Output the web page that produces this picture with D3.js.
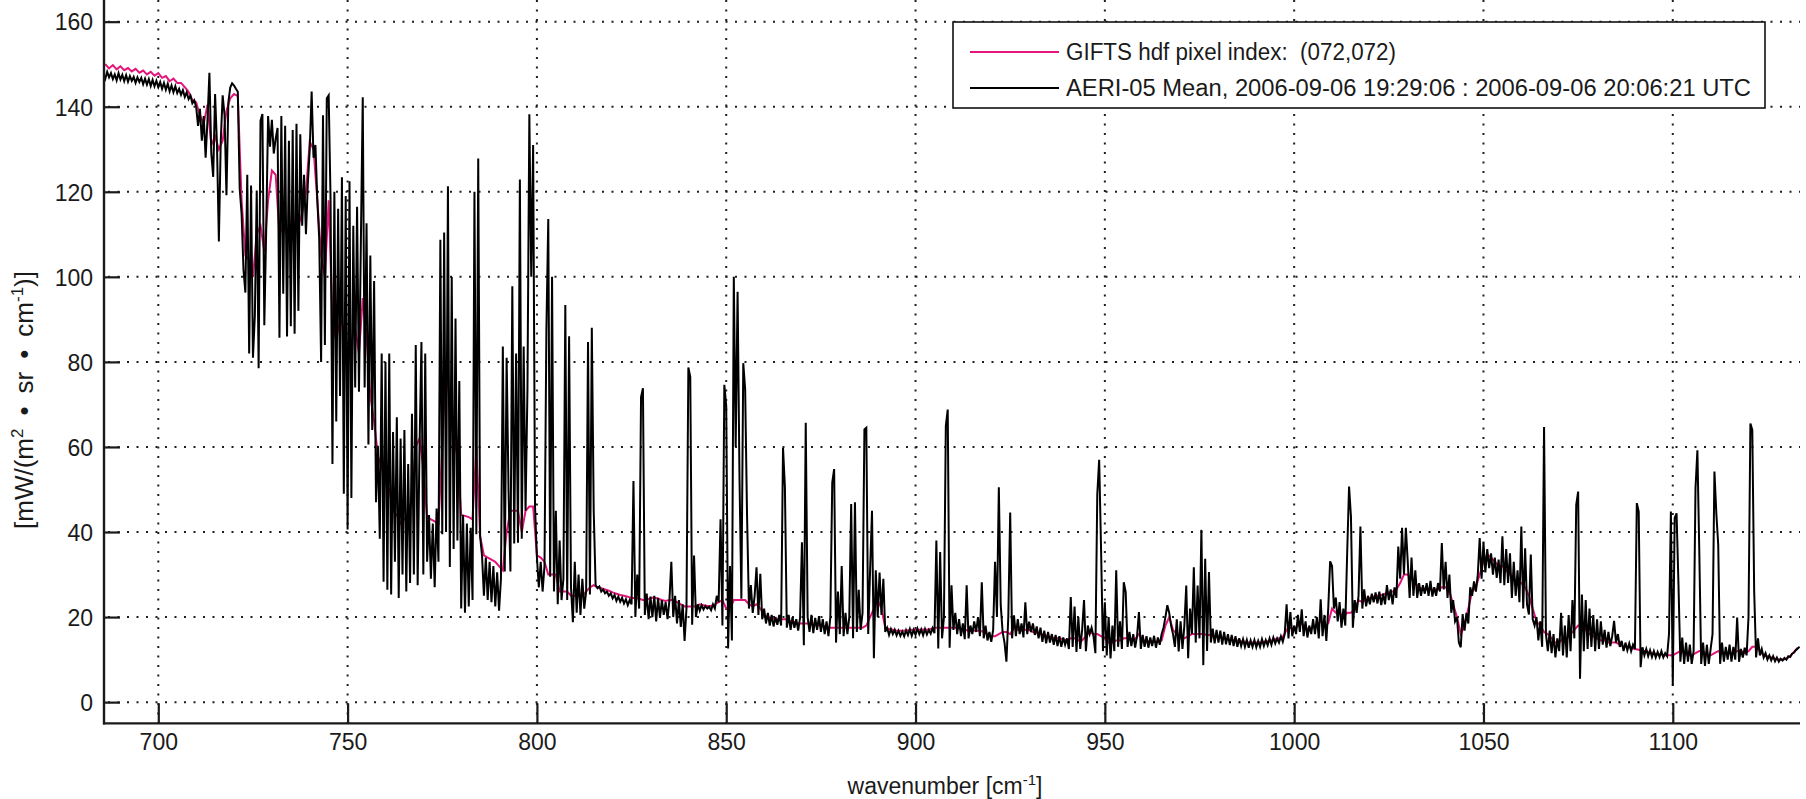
<!DOCTYPE html>
<html><head><meta charset="utf-8">
<script src="https://cdn.jsdelivr.net/npm/d3@7"></script>
<style>
html,body{margin:0;padding:0;background:#fff;}
svg{display:block;}
text{font-family:"Liberation Sans",Arial,Helvetica,sans-serif;fill:#1a1a1a;}
</style></head><body>
<svg id="chart" width="1806" height="799"></svg>
<script>
// ---------- data ----------
const xTicks = [700, 750, 800, 850, 900, 950, 1000, 1050, 1100];
const yTicks = [0, 20, 40, 60, 80, 100, 120, 140, 160];
const xDomain = [685.66, 1133.6];
const yDomain = [-5, 165];

const seriesNames = ["GIFTS hdf pixel index:  (072,072)",
                     "AERI-05 Mean, 2006-09-06 19:29:06 : 2006-09-06 20:06:21 UTC"];

// AERI-05 mean radiance, wavenumber grid 685.5 .. 1133.5 step 0.5
const aeriStart = 685.5, aeriStep = 0.5;
const aeriValues = [
147.8,146.6,148.2,146.9,147.9,146.5,147.6,146.2,147.9,146.4,147.5,146.0,147.4,145.9,147.2,146.1,147.0,145.6,146.9,145.8,
146.8,145.3,146.6,145.2,146.5,144.9,146.3,144.8,146.1,144.6,145.8,144.2,145.6,144.0,145.4,143.6,145.0,143.4,144.8,143.2,
144.2,142.8,143.9,142.3,143.4,141.8,142.6,140.8,141.5,140.0,135.5,139.5,132.0,137.8,128.0,137.0,148.0,129.0,123.5,143.0,
131.0,108.3,132.0,142.7,138.0,119.2,141.0,144.5,145.5,145.0,144.2,143.5,120.8,114.8,101.7,96.3,124.0,82.0,121.5,81.0,
90.8,120.3,78.5,136.7,138.3,88.6,111.0,137.8,130.6,136.9,129.0,132.5,135.0,85.7,137.8,96.0,135.5,86.0,132.0,88.4,
134.5,86.6,136.0,92.0,133.5,112.0,124.0,110.0,122.0,130.0,143.6,128.0,131.0,118.0,109.0,80.0,138.0,84.0,142.0,142.7,
118.0,56.0,120.0,66.0,116.0,72.0,123.4,49.0,119.0,40.6,122.5,48.0,112.0,74.0,116.5,73.0,108.0,142.2,74.0,112.6,
60.6,105.0,64.0,99.0,47.0,60.3,38.4,82.0,28.3,80.0,26.4,82.0,25.3,63.5,33.0,67.0,24.5,62.0,30.0,64.0,
26.0,56.0,28.0,67.8,30.0,84.0,27.5,60.0,84.7,30.0,82.0,33.0,44.0,29.0,42.0,27.0,45.5,33.0,108.7,39.5,
110.4,40.0,121.3,31.8,100.0,36.0,90.2,38.0,75.5,22.0,44.0,21.0,42.0,22.5,41.0,24.0,120.0,39.5,127.8,39.0,
34.5,25.0,34.0,24.0,33.0,23.5,32.0,22.5,30.5,21.5,29.0,83.6,30.7,81.0,50.0,30.7,97.8,37.3,82.0,37.5,
122.9,38.4,83.6,45.0,73.5,138.2,100.0,131.0,46.0,34.0,27.0,33.0,26.0,32.0,87.4,113.6,29.5,100.0,26.0,45.0,
23.0,38.0,24.0,29.0,93.4,24.0,86.0,27.0,18.8,33.0,21.0,30.0,20.5,29.0,22.0,26.0,84.7,25.3,88.0,45.0,
27.5,26.8,27.2,26.0,26.5,25.6,26.0,25.0,25.6,24.4,25.2,23.8,24.8,23.6,24.5,23.2,24.2,22.8,24.0,23.0,
52.0,20.0,30.0,22.0,71.7,73.8,20.5,25.5,19.5,24.8,20.0,25.0,19.0,24.5,19.8,24.0,20.5,23.5,19.5,24.0,
33.0,20.0,25.0,18.5,24.0,17.7,23.0,14.4,22.0,78.7,76.5,18.2,34.5,20.0,23.0,21.5,22.8,21.8,22.6,22.0,
22.4,21.6,23.0,22.0,25.0,23.5,43.0,18.0,74.6,69.6,12.6,32.0,14.5,100.0,60.0,96.5,53.0,24.3,79.7,73.5,
43.8,22.0,27.5,21.0,25.0,31.7,20.5,30.2,19.5,22.0,18.5,21.0,18.0,20.5,17.8,20.0,18.2,20.5,18.0,59.8,
50.5,17.5,20.5,17.0,20.0,17.5,19.5,16.8,19.8,37.6,13.4,65.7,20.0,16.5,20.5,16.2,19.8,17.0,20.2,16.5,
19.5,16.0,19.0,15.5,20.0,51.6,54.8,14.0,26.0,16.0,32.0,15.5,21.0,16.0,20.0,46.6,15.0,47.0,16.5,26.4,
17.0,21.0,64.1,64.5,16.0,31.0,45.0,10.3,31.0,20.0,30.5,20.5,29.0,16.5,17.5,15.8,17.2,16.0,17.0,15.7,
16.8,15.6,16.6,15.5,16.9,15.8,17.2,15.6,17.0,15.8,17.3,16.0,17.1,15.7,17.2,15.9,17.0,16.1,17.4,16.2,
38.0,12.6,35.3,15.0,20.0,64.9,68.8,12.8,27.5,17.0,21.0,16.0,19.5,15.5,18.5,14.8,27.5,15.0,18.0,16.0,
19.0,16.5,20.0,15.5,28.2,15.0,18.0,14.5,16.5,14.2,17.0,33.0,20.0,50.5,22.8,16.5,14.0,9.5,20.0,44.6,
15.0,20.4,15.5,19.5,16.0,18.5,15.2,23.5,16.0,18.9,16.5,18.5,15.8,17.8,15.0,17.5,14.2,16.8,13.8,16.5,
14.0,16.0,13.5,15.8,13.2,15.5,13.0,15.2,13.5,15.0,12.5,24.7,13.0,22.5,11.8,20.0,12.5,17.0,24.0,12.0,
18.0,16.0,17.5,15.5,11.5,48.9,57.0,36.0,12.0,23.5,11.0,20.0,10.3,18.0,12.0,31.0,13.0,19.0,12.5,28.2,
25.9,13.0,16.5,13.2,16.0,12.8,15.5,21.2,12.5,15.8,13.0,15.5,12.8,15.2,13.2,15.6,12.8,15.2,13.5,16.0,
17.5,20.0,22.8,21.0,18.0,16.0,13.0,19.5,11.9,19.0,12.5,18.0,27.4,10.3,22.0,16.0,31.7,14.0,27.4,15.0,
40.5,8.7,33.7,12.0,30.6,14.0,17.3,13.8,17.0,14.0,16.8,13.5,16.5,13.6,16.0,13.4,15.8,13.2,15.5,13.0,
15.0,13.2,14.8,13.0,14.6,12.8,14.5,13.0,14.6,12.9,14.4,13.0,14.8,13.2,14.6,13.4,15.0,13.5,15.2,13.8,
15.0,14.0,15.5,14.2,16.0,23.0,15.0,21.2,15.5,18.0,16.0,20.5,16.5,21.8,15.5,19.0,15.2,18.0,16.0,19.5,
16.0,20.0,15.0,24.2,15.5,20.5,14.4,22.0,33.1,32.0,22.0,24.6,19.0,23.5,17.5,22.0,18.0,35.0,50.7,43.6,
17.5,24.0,21.0,25.0,41.3,22.0,26.5,22.5,25.0,23.0,25.5,23.5,25.8,23.2,26.0,22.8,25.5,23.0,27.5,24.0,
26.5,23.0,27.0,24.5,36.6,29.0,41.0,30.0,41.0,33.0,24.5,34.0,25.0,31.0,24.5,28.0,25.0,27.5,25.5,28.0,
25.0,28.5,24.8,27.0,25.0,28.0,26.0,37.4,26.5,33.0,24.5,30.0,21.0,24.0,19.0,20.0,14.0,12.9,20.7,16.8,
21.0,18.5,27.0,25.0,28.4,26.0,30.0,38.6,29.0,37.5,30.5,36.0,31.5,35.0,30.0,34.0,29.2,33.5,28.0,39.0,
27.5,36.0,28.0,35.0,24.5,33.0,25.0,31.0,23.5,41.3,22.0,36.2,23.0,20.6,34.7,19.5,18.0,20.0,14.5,19.0,
13.0,64.7,16.0,12.0,16.8,11.5,16.0,10.5,15.0,12.0,21.0,11.0,18.0,10.5,20.5,12.0,24.0,15.0,46.4,49.5,
5.5,25.3,12.0,24.0,12.5,22.0,13.0,20.5,12.0,19.5,12.5,19.0,13.5,17.0,12.8,16.5,13.2,15.5,19.1,14.0,
16.0,13.0,14.4,12.0,14.0,12.2,13.8,12.0,13.5,12.5,46.8,44.8,8.2,12.9,11.0,12.5,10.8,12.2,10.6,12.0,
10.5,11.8,10.6,12.0,10.5,11.5,10.8,16.0,44.8,3.9,43.3,44.4,27.7,9.5,15.2,9.0,14.0,9.5,13.5,9.0,
12.0,50.3,59.2,35.5,9.0,14.0,8.5,13.5,9.0,12.5,16.0,54.2,44.4,37.0,9.0,14.0,9.5,13.0,10.0,13.5,
9.5,13.0,10.0,19.9,9.5,12.5,10.5,12.8,11.0,20.0,65.5,64.0,26.0,10.5,15.0,11.0,12.5,10.5,11.5,10.0,
11.0,9.8,10.8,9.6,10.5,9.5,10.2,9.8,10.4,10.0,10.8,10.6,11.4,11.6,12.2,12.6,13.0
];

// GIFTS pixel (072,072) radiance, wavenumber grid 686 .. 1133 step 1
const giftsStart = 686, giftsStep = 1;
const giftsValues = [
150.0,149.0,149.8,148.8,149.5,148.6,149.1,148.3,148.9,148.0,
148.5,147.6,148.2,147.3,147.9,146.8,147.2,146.0,146.6,145.6,
145.6,144.6,143.5,141.6,141.0,138.0,136.0,140.5,131.0,133.0,
130.0,132.0,139.0,142.0,143.0,142.5,118.0,105.0,104.0,100.0,
110.0,112.0,106.0,118.0,125.0,124.0,110.0,112.0,110.0,108.0,
110.0,112.0,115.0,120.0,131.8,130.0,118.0,105.0,100.0,118.0,
90.0,85.0,90.0,88.0,80.0,85.0,88.0,82.0,95.0,86.0,
72.0,66.0,58.0,55.0,52.0,50.0,45.0,44.0,42.0,43.0,
44.0,48.0,60.0,62.0,55.0,43.5,43.0,42.5,42.0,60.0,
80.0,70.0,62.0,58.0,44.0,43.8,43.5,43.0,60.0,39.0,
34.5,34.0,33.5,33.0,32.0,31.0,40.0,45.0,45.0,45.0,
40.0,45.0,46.0,46.0,34.5,34.0,33.0,30.0,30.0,30.0,
26.0,26.0,26.0,25.0,25.0,25.0,25.0,26.0,27.0,27.5,
27.0,26.8,26.5,26.2,25.8,25.5,25.2,25.0,24.8,24.5,
24.5,24.3,24.0,24.0,24.5,24.6,24.3,24.0,23.8,24.0,
24.0,23.5,23.0,22.5,22.5,22.5,22.5,23.0,22.8,22.6,
22.6,23.0,23.5,24.0,22.0,22.0,24.0,24.0,24.0,24.0,
23.0,22.5,23.0,22.0,20.5,20.0,19.8,19.5,19.5,19.5,
19.5,19.0,18.8,18.5,18.5,18.5,18.5,18.2,18.0,18.0,
17.8,17.5,17.5,17.5,17.5,17.5,17.5,17.5,17.5,17.5,
17.5,18.0,20.0,22.0,24.0,22.0,17.5,17.2,17.0,16.8,
16.8,16.8,16.9,17.0,17.0,17.0,17.1,17.0,17.2,17.5,
17.5,17.5,17.5,17.5,17.5,17.5,17.2,17.0,16.8,16.8,
16.8,16.8,16.5,16.0,15.5,15.5,16.0,16.5,16.5,16.0,
17.5,17.0,16.8,17.0,17.0,16.5,16.2,16.0,15.8,15.5,
15.2,15.0,15.0,14.8,14.5,15.0,15.0,14.5,14.5,15.5,
16.5,16.0,16.0,15.5,15.0,14.0,14.0,14.5,14.5,15.0,
15.0,14.8,14.8,16.0,14.5,14.5,14.2,14.2,14.2,14.5,
18.0,20.0,17.0,16.0,15.0,15.0,15.5,16.0,16.0,16.0,
16.0,15.8,15.8,15.5,15.2,15.0,14.8,14.6,14.5,14.5,
14.3,14.2,14.0,14.0,14.0,14.0,14.2,14.3,14.5,14.8,
15.0,15.3,17.0,17.5,17.0,18.0,18.5,17.5,17.0,17.5,
18.0,19.0,18.0,18.5,22.0,21.0,21.0,20.0,21.0,21.0,
22.0,24.0,23.5,24.0,24.5,24.8,25.0,25.2,25.5,25.8,
26.0,26.5,28.0,30.0,30.0,29.0,28.0,27.0,26.5,26.5,
26.5,26.5,26.5,27.0,27.0,26.0,23.0,20.0,16.0,18.0,
22.0,26.0,27.0,30.0,33.0,34.7,34.0,33.0,32.0,32.0,
31.0,30.0,29.0,28.0,28.0,27.0,25.0,22.0,19.0,18.0,
16.5,16.0,15.0,14.0,14.0,15.0,15.0,16.0,17.0,18.0,
18.0,17.0,16.0,15.5,15.0,14.5,14.5,14.0,14.0,14.0,
13.5,13.0,13.0,12.8,12.5,12.3,12.0,12.0,11.5,11.5,
11.2,11.2,11.0,11.0,11.0,11.5,12.0,11.5,11.0,11.0,
11.5,12.0,12.0,11.0,11.0,11.5,12.0,11.5,11.5,11.5,
11.5,12.0,12.0,11.5,12.0,13.0,13.0,12.0,11.0,10.8,
10.5,10.2,10.0,10.0,10.2,10.8,11.8,12.8
];

const seriesColors = ["#e3157b", "#000000"];

// ---------- layout ----------
const W = 1806, H = 799;
const plot = {left: 104, right: 1800, top: 0.4, bottom: 723.4};

const svg = d3.select("#chart");
svg.append("rect").attr("width", W).attr("height", H).attr("fill", "#fff");

const x = d3.scaleLinear().domain(xDomain).range([plot.left, plot.right]);
const y = d3.scaleLinear().domain(yDomain).range([plot.bottom, plot.top]);

const aeri = aeriValues.map((v, i) => ({wn: aeriStart + i * aeriStep, v}));
const gifts = giftsValues.map((v, i) => ({wn: giftsStart + i * giftsStep, v}));

svg.append("defs").append("clipPath").attr("id", "clip")
  .append("rect").attr("x", plot.left).attr("y", 0)
  .attr("width", plot.right - plot.left).attr("height", plot.bottom);

// grid
const grid = svg.append("g").attr("stroke", "#1e1e1e").attr("stroke-width", 2)
  .attr("stroke-dasharray", "2 7.5");
grid.selectAll("line.gy").data(yTicks).join("line")
  .attr("x1", plot.left + 4).attr("x2", plot.right)
  .attr("y1", d => y(d)).attr("y2", d => y(d));
grid.selectAll("line.gx").data(xTicks).join("line")
  .attr("y1", 0).attr("y2", plot.bottom)
  .attr("x1", d => x(d)).attr("x2", d => x(d));

// series
const line = d3.line().x(d => x(d.wn)).y(d => y(d.v));
const g = svg.append("g").attr("clip-path", "url(#clip)");
g.append("path").datum(gifts).attr("d", line).attr("fill", "none")
  .attr("stroke", seriesColors[0]).attr("stroke-width", 2).attr("stroke-linejoin", "miter");
g.append("path").datum(aeri).attr("d", line).attr("fill", "none")
  .attr("stroke", seriesColors[1]).attr("stroke-width", 2).attr("stroke-linejoin", "miter");

// axes
const axisColor = "#1a1a1a";
const yAxis = d3.axisLeft(y).tickValues(yTicks).tickSize(-16).tickPadding(11).tickFormat(d3.format("d"));
const xAxis = d3.axisBottom(x).tickValues(xTicks).tickSize(-20).tickPadding(19).tickFormat(d3.format("d"));

const ya = svg.append("g").attr("transform", `translate(${plot.left},0)`).call(yAxis);
const xa = svg.append("g").attr("transform", `translate(0,${plot.bottom})`).call(xAxis);
[ya, xa].forEach(a => {
  a.select(".domain").remove();
  a.selectAll(".tick line").attr("stroke", axisColor).attr("stroke-width", 2.2);
  a.selectAll("text").attr("fill", axisColor).style("font-size", "23px")
    .style("font-family", "'Liberation Sans', Arial, sans-serif");
});
xa.selectAll("text").attr("dy", "0.35em");
ya.selectAll("text").attr("dy", "0.36em");

svg.append("line").attr("x1", plot.left).attr("x2", plot.left).attr("y1", 0).attr("y2", plot.bottom + 1)
  .attr("stroke", axisColor).attr("stroke-width", 2.4);
svg.append("line").attr("x1", plot.left - 1).attr("x2", plot.right).attr("y1", plot.bottom).attr("y2", plot.bottom)
  .attr("stroke", axisColor).attr("stroke-width", 2.4);

// axis labels
const xl = svg.append("text").attr("x", 945).attr("y", 794).attr("text-anchor", "middle")
  .style("font-size", "23px");
xl.append("tspan").text("wavenumber [cm");
xl.append("tspan").attr("dy", -9).style("font-size", "15px").text("-1");
xl.append("tspan").attr("dy", 9).text("]");

const yl = svg.append("text").attr("transform", "translate(33,400) rotate(-90)")
  .attr("text-anchor", "middle").style("font-size", "26px");
yl.append("tspan").text("[mW/(m");
yl.append("tspan").attr("dy", -10).style("font-size", "17px").text("2");
yl.append("tspan").attr("dy", 10).text("\u2002\u2022\u2002sr\u2002\u2022\u2002cm");
yl.append("tspan").attr("dy", -10).style("font-size", "17px").text("-1");
yl.append("tspan").attr("dy", 10).text(")]");

// legend
const lg = svg.append("g");
lg.append("rect").attr("x", 953).attr("y", 22).attr("width", 812).attr("height", 86)
  .attr("fill", "#fff").attr("stroke", "#111").attr("stroke-width", 1.6);
const rows = [52, 88];
const legendTextWidths = [330, 685];
seriesNames.forEach((name, i) => {
  lg.append("line").attr("x1", 970).attr("x2", 1059).attr("y1", rows[i]).attr("y2", rows[i])
    .attr("stroke", seriesColors[i]).attr("stroke-width", 2);
  lg.append("text").attr("x", 1066).attr("y", rows[i] + 8).style("font-size", "23px")
    .attr("textLength", legendTextWidths[i]).attr("lengthAdjust", "spacingAndGlyphs")
    .attr("xml:space", "preserve").style("white-space", "pre").text(name);
});
</script>
</body></html>
